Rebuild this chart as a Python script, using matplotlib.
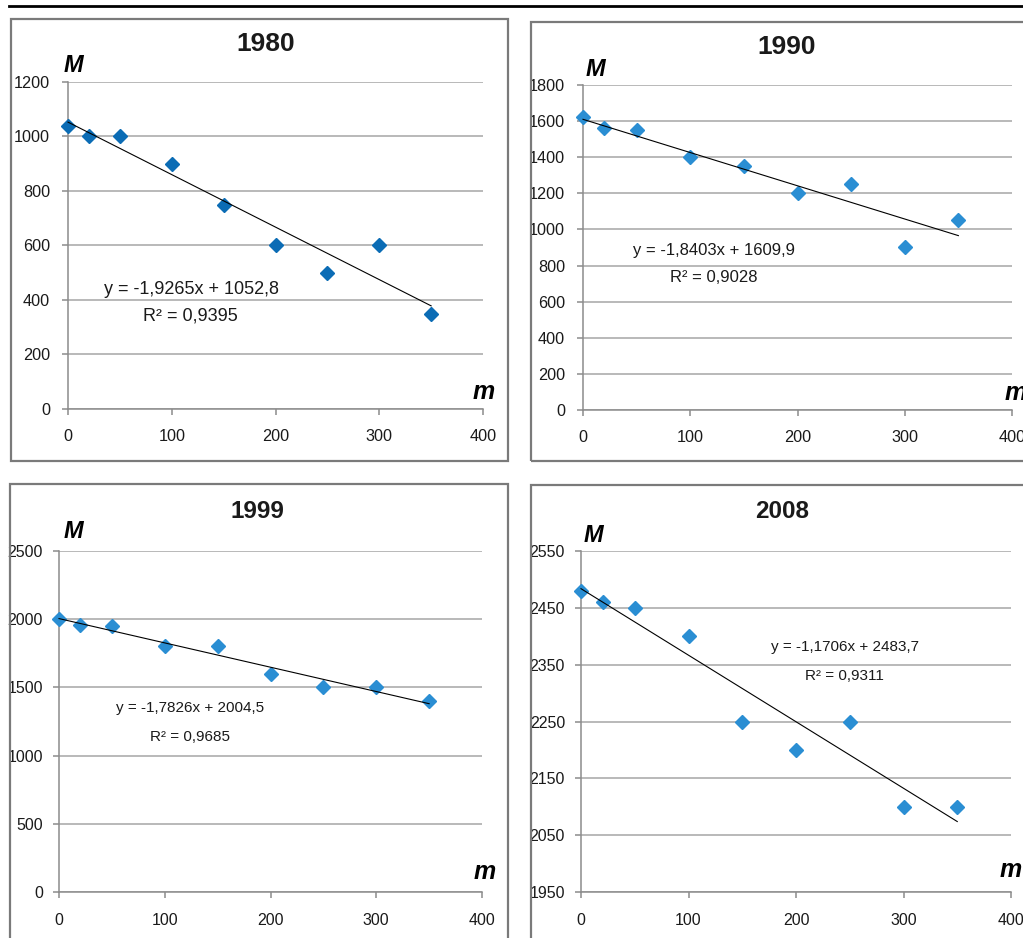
import matplotlib.pyplot as plt
import numpy as np
from matplotlib.patches import Rectangle
from matplotlib.lines import Line2D

m_values = [0, 20, 50, 100, 150, 200, 250, 300, 350]
M_1980 = [1040, 1000, 1000, 900, 750, 600, 500, 600, 350]
M_1990 = [1620, 1560, 1550, 1400, 1350, 1200, 1250, 900, 1050]
M_1999 = [2000, 1960, 1950, 1800, 1800, 1600, 1500, 1500, 1400]
M_2008 = [2480, 2460, 2450, 2400, 2250, 2200, 2250, 2100, 2100]

years = ['1980', '1990', '1999', '2008']
slopes = [-1.9265, -1.8403, -1.7826, -1.1706]
intercepts = [1052.8, 1609.9, 2004.5, 2483.7]
equations = ['y = -1,9265x + 1052,8', 'y = -1,8403x + 1609,9',
             'y = -1,7826x + 2004,5', 'y = -1,1706x + 2483,7']
r2_labels = ['R² = 0,9395', 'R² = 0,9028', 'R² = 0,9685', 'R² = 0,9311']
y_ticks = [list(range(0, 1201, 200)), list(range(0, 1801, 200)),
           list(range(0, 2501, 500)), list(range(1950, 2551, 100))]
x_ticks = [0, 100, 200, 300, 400]

W, H = 1023, 938
fig = plt.figure(figsize=(W / 100, H / 100), dpi=100)
plt.rcParams['font.family'] = ['Liberation Sans', 'DejaVu Sans']


def fx(px):
    return px / W


def fy(py):
    return 1 - py / H


# линия колонтитула
fig.add_artist(Line2D([fx(9), fx(1023)], [fy(6), fy(6)], color='black', lw=2,
                      transform=fig.transFigure))

# раскладка: рамка, оси (пиксели), подписи
panels = [
    dict(data=M_1980, color='#0b6cb5', frame=(11, 19, 508, 461), ax=(68, 483, 82, 409),
         title=(266, 44), M=(73, 66), m=(484, 392), eq=(191, 289), r2=(190, 316),
         tfs=11.7, efs=13, title_fs=19, ypad=8.5, xpad=10),
    dict(data=M_1990, color='#2a8ed3', frame=(531, 22, 1032, 461), ax=(583, 1012, 85, 410),
         title=(787, 47), M=(595, 69), m=(1016, 393), eq=(714, 251), r2=(714, 277),
         tfs=11.7, efs=12, title_fs=19, ypad=8.5, xpad=10),
    dict(data=M_1999, color='#2a8ed3', frame=(10, 484, 508, 950), ax=(59, 482, 551, 892),
         title=(257, 511), M=(73, 531), m=(485, 872), eq=(190, 708), r2=(190, 737),
         tfs=11.5, efs=11, title_fs=17.5, ypad=7, xpad=10.5),
    dict(data=M_2008, color='#2a8ed3', frame=(531, 485, 1032, 950), ax=(581, 1011, 551, 892),
         title=(782, 511), M=(593, 535), m=(1011, 870), eq=(845, 647), r2=(844, 676),
         tfs=11.5, efs=11, title_fs=17.5, ypad=7, xpad=10.5),
]

for i, p in enumerate(panels):
    l, t, r, b = p['frame']
    fig.add_artist(Rectangle((fx(l), fy(b)), (r - l) / W, (b - t) / H, fill=False,
                             ec='#7a7a7a', lw=1.6, transform=fig.transFigure))

    x0, x1, ytop, ybot = p['ax']
    ax = fig.add_axes([fx(x0), fy(ybot), (x1 - x0) / W, (ybot - ytop) / H])
    ax.set_facecolor('none')
    ax.set_xlim(0, 400)
    ax.set_ylim(y_ticks[i][0], y_ticks[i][-1])
    ax.set_xticks(x_ticks)
    ax.set_yticks(y_ticks[i])
    ax.grid(axis='y', color='#a6a6a6', lw=1.1)
    ax.set_axisbelow(True)
    for s in ['top', 'right']:
        ax.spines[s].set_visible(False)
    for s in ['left', 'bottom']:
        ax.spines[s].set_color('#8c8c8c')
        ax.spines[s].set_linewidth(1.1)
    ax.tick_params(axis='both', colors='#8c8c8c', length=4.5, width=1.1,
                   labelcolor='#1a1a1a', labelsize=p['tfs'])
    ax.tick_params(axis='y', pad=p['ypad'])
    ax.tick_params(axis='x', pad=p['xpad'])

    # точки и линия тренда
    ax.plot(m_values, p['data'], linestyle='none', marker='D', markersize=7.5,
            color=p['color'], clip_on=False, zorder=3)
    x_fit = np.array([m_values[0], m_values[-1]])
    ax.plot(x_fit, intercepts[i] + slopes[i] * x_fit, color='black', lw=0.8,
            zorder=4, clip_on=False)

    fig.text(fx(p['title'][0]), fy(p['title'][1]), years[i], ha='center', va='center',
             fontsize=p['title_fs'], fontweight='bold', color='#1a1a1a')
    fig.text(fx(p['M'][0]), fy(p['M'][1]), 'M', ha='center', va='center', fontsize=17,
             fontweight='bold', fontstyle='italic')
    fig.text(fx(p['m'][0]), fy(p['m'][1]), 'm', ha='center', va='center', fontsize=18,
             fontweight='bold', fontstyle='italic')
    fig.text(fx(p['eq'][0]), fy(p['eq'][1]), equations[i], ha='center', va='center',
             fontsize=p['efs'], color='#1a1a1a')
    fig.text(fx(p['r2'][0]), fy(p['r2'][1]), r2_labels[i], ha='center', va='center',
             fontsize=p['efs'], color='#1a1a1a')

fig.savefig('out.png', dpi=100, facecolor='white')
